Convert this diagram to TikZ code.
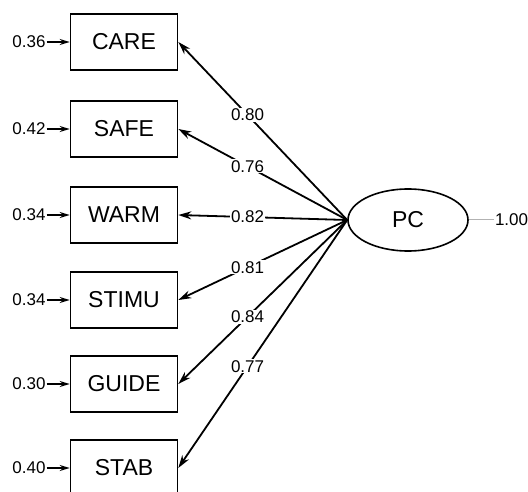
\documentclass[tikz,border=0pt]{standalone}
\usepackage{fontspec}
\setmainfont{Liberation Sans}
\usetikzlibrary{positioning,shapes.geometric,arrows.meta}
\begin{document}
\begin{tikzpicture}[x=1pt,y=-1pt]
    \useasboundingbox (0,0) rectangle (528,492);
    \clip (0,0) rectangle (528,492);

    \tikzstyle{obs}=[draw=black,line width=1.6pt,minimum width=107pt,minimum height=56pt,inner sep=0pt,font=\fontsize{23}{26}\selectfont]
    \tikzstyle{lat}=[draw=black,line width=1.6pt,ellipse,minimum width=120pt,minimum height=62pt,font=\fontsize{23}{26}\selectfont]
    \tikzstyle{err}=[inner sep=1pt,font=\fontsize{17}{20}\selectfont]
    \tikzstyle{est}=[fill=white,inner sep=1pt,pos=0.59,font=\fontsize{17}{20}\selectfont]

    \node[obs]  (care)  at (124,42)  {CARE};
    \node[obs]  (safe)  at (124,129) {SAFE};
    \node[obs]  (warm)  at (124,215) {WARM};
    \node[obs]  (stimu) at (124,300) {STIMU};
    \node[obs]  (guide) at (124,384) {GUIDE};
    \node[obs]  (stab)  at (124,468) {STAB};
    \node[lat]  (pc)    at (408,220) {PC};

    \node[err,left=23pt of care]  (ecare)  {0.36};
    \node[err,left=23pt of safe]  (esafe)  {0.42};
    \node[err,left=23pt of warm]  (ewarm)  {0.34};
    \node[err,left=23pt of stimu] (estimu) {0.34};
    \node[err,left=23pt of guide] (eguide) {0.30};
    \node[err,left=23pt of stab]  (estab)  {0.40};
    \node[err,right=25pt of pc] (vpc) {1.00};

    \tikzstyle{load} = [draw=black, line width=1.8pt, -{Stealth[length=13pt,width=8pt]}]
    \tikzstyle{res} = [draw=black, line width=1.4pt, -{Stealth[length=10pt,width=6pt]}]

          \draw [load] (pc.west) -- node[est] {0.80} (care.east);
          \draw [load] (pc.west) -- node[est] {0.76} (safe.east);
          \draw [load] (pc.west) -- node[est] {0.82} (warm.east);
          \draw [load] (pc.west) -- node[est] {0.81} (stimu.east);
          \draw [load] (pc.west) -- node[est] {0.84} (guide.east);
          \draw [load] (pc.west) -- node[est] {0.77} (stab.east);

          \draw [res] (ecare) -- (care);
          \draw [res] (esafe) -- (safe);
          \draw [res] (ewarm) -- (warm);
          \draw [res] (estimu) -- (stimu);
          \draw [res] (eguide) -- (guide);
          \draw [res] (estab) -- (stab);
          \draw [gray!60, line width=1pt] (pc) -- (vpc);

  \end{tikzpicture}
\end{document}
